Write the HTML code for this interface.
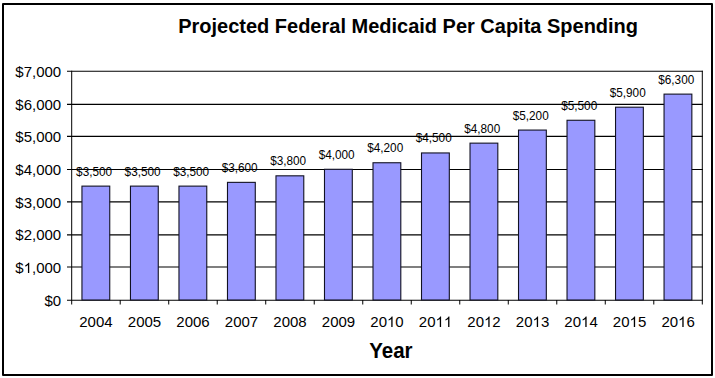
<!DOCTYPE html>
<html><head><meta charset="utf-8"><style>
html,body{margin:0;padding:0;background:#fff;width:715px;height:378px;overflow:hidden}
svg{display:block}
text{font-family:"Liberation Sans",sans-serif;fill:#000;font-kerning:none}
.tt{font-size:20px;font-weight:bold;font-kerning:auto}
</style></head><body>
<svg width="715" height="378" viewBox="0 0 715 378">
<rect x="3" y="4" width="709" height="371" fill="none" stroke="#000" stroke-width="2" stroke-linejoin="round"/>
<line x1="67" y1="300.20" x2="702.80" y2="300.20" stroke="#000" stroke-width="1.15"/>
<line x1="67" y1="267.00" x2="702.80" y2="267.00" stroke="#000" stroke-width="1.15"/>
<line x1="67" y1="234.90" x2="702.80" y2="234.90" stroke="#000" stroke-width="1.15"/>
<line x1="67" y1="201.90" x2="702.80" y2="201.90" stroke="#000" stroke-width="1.15"/>
<line x1="67" y1="169.50" x2="702.80" y2="169.50" stroke="#000" stroke-width="1.15"/>
<line x1="67" y1="136.40" x2="702.80" y2="136.40" stroke="#000" stroke-width="1.15"/>
<line x1="67" y1="104.35" x2="702.80" y2="104.35" stroke="#000" stroke-width="1.15"/>
<line x1="67" y1="71.20" x2="702.80" y2="71.20" stroke="#000" stroke-width="1.15"/>
<line x1="702.30" y1="70.75" x2="702.30" y2="304.50" stroke="#000" stroke-width="1"/>
<line x1="71.70" y1="70.75" x2="71.70" y2="304.50" stroke="#000" stroke-width="1"/>
<line x1="120.21" y1="300.00" x2="120.21" y2="304.50" stroke="#000" stroke-width="1"/>
<line x1="168.72" y1="300.00" x2="168.72" y2="304.50" stroke="#000" stroke-width="1"/>
<line x1="217.22" y1="300.00" x2="217.22" y2="304.50" stroke="#000" stroke-width="1"/>
<line x1="265.73" y1="300.00" x2="265.73" y2="304.50" stroke="#000" stroke-width="1"/>
<line x1="314.24" y1="300.00" x2="314.24" y2="304.50" stroke="#000" stroke-width="1"/>
<line x1="362.75" y1="300.00" x2="362.75" y2="304.50" stroke="#000" stroke-width="1"/>
<line x1="411.25" y1="300.00" x2="411.25" y2="304.50" stroke="#000" stroke-width="1"/>
<line x1="459.76" y1="300.00" x2="459.76" y2="304.50" stroke="#000" stroke-width="1"/>
<line x1="508.27" y1="300.00" x2="508.27" y2="304.50" stroke="#000" stroke-width="1"/>
<line x1="556.78" y1="300.00" x2="556.78" y2="304.50" stroke="#000" stroke-width="1"/>
<line x1="605.28" y1="300.00" x2="605.28" y2="304.50" stroke="#000" stroke-width="1"/>
<line x1="653.79" y1="300.00" x2="653.79" y2="304.50" stroke="#000" stroke-width="1"/>
<rect x="81.95" y="186.12" width="27.8" height="113.88" fill="#9999FF" stroke="#111122" stroke-width="1.1"/>
<rect x="130.46" y="186.12" width="27.8" height="113.88" fill="#9999FF" stroke="#111122" stroke-width="1.1"/>
<rect x="178.97" y="186.12" width="27.8" height="113.88" fill="#9999FF" stroke="#111122" stroke-width="1.1"/>
<rect x="227.48" y="182.36" width="27.8" height="117.64" fill="#9999FF" stroke="#111122" stroke-width="1.1"/>
<rect x="275.98" y="175.82" width="27.8" height="124.18" fill="#9999FF" stroke="#111122" stroke-width="1.1"/>
<rect x="324.49" y="169.29" width="27.8" height="130.71" fill="#9999FF" stroke="#111122" stroke-width="1.1"/>
<rect x="373.00" y="162.75" width="27.8" height="137.25" fill="#9999FF" stroke="#111122" stroke-width="1.1"/>
<rect x="421.51" y="152.95" width="27.8" height="147.05" fill="#9999FF" stroke="#111122" stroke-width="1.1"/>
<rect x="470.02" y="143.14" width="27.8" height="156.86" fill="#9999FF" stroke="#111122" stroke-width="1.1"/>
<rect x="518.52" y="130.07" width="27.8" height="169.93" fill="#9999FF" stroke="#111122" stroke-width="1.1"/>
<rect x="567.03" y="120.27" width="27.8" height="179.73" fill="#9999FF" stroke="#111122" stroke-width="1.1"/>
<rect x="615.54" y="107.20" width="27.8" height="192.80" fill="#9999FF" stroke="#111122" stroke-width="1.1"/>
<rect x="664.05" y="94.12" width="27.8" height="205.88" fill="#9999FF" stroke="#111122" stroke-width="1.1"/>
<g transform="translate(94.15,175.62) scale(1.0,1.04)"><text x="-18.05" y="0" style="font-size:11.8px">$3,500</text></g>
<g transform="translate(142.66,175.62) scale(1.0,1.04)"><text x="-18.05" y="0" style="font-size:11.8px">$3,500</text></g>
<g transform="translate(191.17,175.62) scale(1.0,1.04)"><text x="-18.05" y="0" style="font-size:11.8px">$3,500</text></g>
<g transform="translate(239.68,171.86) scale(1.0,1.04)"><text x="-18.05" y="0" style="font-size:11.8px">$3,600</text></g>
<g transform="translate(288.18,165.32) scale(1.0,1.04)"><text x="-18.05" y="0" style="font-size:11.8px">$3,800</text></g>
<g transform="translate(336.69,158.79) scale(1.0,1.04)"><text x="-18.05" y="0" style="font-size:11.8px">$4,000</text></g>
<g transform="translate(385.20,152.25) scale(1.0,1.04)"><text x="-18.05" y="0" style="font-size:11.8px">$4,200</text></g>
<g transform="translate(433.71,142.45) scale(1.0,1.04)"><text x="-18.05" y="0" style="font-size:11.8px">$4,500</text></g>
<g transform="translate(482.22,132.64) scale(1.0,1.04)"><text x="-18.05" y="0" style="font-size:11.8px">$4,800</text></g>
<g transform="translate(530.72,119.57) scale(1.0,1.04)"><text x="-18.05" y="0" style="font-size:11.8px">$5,200</text></g>
<g transform="translate(579.23,109.77) scale(1.0,1.04)"><text x="-18.05" y="0" style="font-size:11.8px">$5,500</text></g>
<g transform="translate(627.74,96.70) scale(1.0,1.04)"><text x="-18.05" y="0" style="font-size:11.8px">$5,900</text></g>
<g transform="translate(676.25,83.62) scale(1.0,1.04)"><text x="-18.05" y="0" style="font-size:11.8px">$6,300</text></g>
<g transform="translate(61.20,305.80) scale(1.0,1.0)"><text x="-16.68" y="0" style="font-size:15px">$0</text></g>
<g transform="translate(61.20,273.12) scale(1.0,1.0)"><text x="-45.88" y="0" style="font-size:15px">$ ,000</text><path transform="translate(-37.537,0) scale(0.00732,-0.00707)" d="M763 0L583 0L583 1147Q518 1085 412 1023Q306 961 222 930L222 1104Q373 1175 486 1276Q599 1377 646 1472L763 1472Z"/></g>
<g transform="translate(61.20,240.44) scale(1.0,1.0)"><text x="-45.88" y="0" style="font-size:15px">$2,000</text></g>
<g transform="translate(61.20,207.76) scale(1.0,1.0)"><text x="-45.88" y="0" style="font-size:15px">$3,000</text></g>
<g transform="translate(61.20,175.09) scale(1.0,1.0)"><text x="-45.88" y="0" style="font-size:15px">$4,000</text></g>
<g transform="translate(61.20,142.41) scale(1.0,1.0)"><text x="-45.88" y="0" style="font-size:15px">$5,000</text></g>
<g transform="translate(61.20,109.73) scale(1.0,1.0)"><text x="-45.88" y="0" style="font-size:15px">$6,000</text></g>
<g transform="translate(61.20,77.05) scale(1.0,1.0)"><text x="-45.88" y="0" style="font-size:15px">$7,000</text></g>
<g transform="translate(95.95,327.00) scale(1.0,1.0)"><text x="-16.68" y="0" style="font-size:15px">2004</text></g>
<g transform="translate(144.46,327.00) scale(1.0,1.0)"><text x="-16.68" y="0" style="font-size:15px">2005</text></g>
<g transform="translate(192.97,327.00) scale(1.0,1.0)"><text x="-16.68" y="0" style="font-size:15px">2006</text></g>
<g transform="translate(241.48,327.00) scale(1.0,1.0)"><text x="-16.68" y="0" style="font-size:15px">2007</text></g>
<g transform="translate(289.98,327.00) scale(1.0,1.0)"><text x="-16.68" y="0" style="font-size:15px">2008</text></g>
<g transform="translate(338.49,327.00) scale(1.0,1.0)"><text x="-16.68" y="0" style="font-size:15px">2009</text></g>
<g transform="translate(387.00,327.00) scale(1.0,1.0)"><text x="-16.68" y="0" style="font-size:15px">20 0</text><path transform="translate(0.000,0) scale(0.00732,-0.00707)" d="M763 0L583 0L583 1147Q518 1085 412 1023Q306 961 222 930L222 1104Q373 1175 486 1276Q599 1377 646 1472L763 1472Z"/></g>
<g transform="translate(435.51,327.00) scale(1.0,1.0)"><text x="-16.68" y="0" style="font-size:15px">20  </text><path transform="translate(0.000,0) scale(0.00732,-0.00707)" d="M763 0L583 0L583 1147Q518 1085 412 1023Q306 961 222 930L222 1104Q373 1175 486 1276Q599 1377 646 1472L763 1472Z"/><path transform="translate(8.342,0) scale(0.00732,-0.00707)" d="M763 0L583 0L583 1147Q518 1085 412 1023Q306 961 222 930L222 1104Q373 1175 486 1276Q599 1377 646 1472L763 1472Z"/></g>
<g transform="translate(484.02,327.00) scale(1.0,1.0)"><text x="-16.68" y="0" style="font-size:15px">20 2</text><path transform="translate(0.000,0) scale(0.00732,-0.00707)" d="M763 0L583 0L583 1147Q518 1085 412 1023Q306 961 222 930L222 1104Q373 1175 486 1276Q599 1377 646 1472L763 1472Z"/></g>
<g transform="translate(532.52,327.00) scale(1.0,1.0)"><text x="-16.68" y="0" style="font-size:15px">20 3</text><path transform="translate(0.000,0) scale(0.00732,-0.00707)" d="M763 0L583 0L583 1147Q518 1085 412 1023Q306 961 222 930L222 1104Q373 1175 486 1276Q599 1377 646 1472L763 1472Z"/></g>
<g transform="translate(581.03,327.00) scale(1.0,1.0)"><text x="-16.68" y="0" style="font-size:15px">20 4</text><path transform="translate(0.000,0) scale(0.00732,-0.00707)" d="M763 0L583 0L583 1147Q518 1085 412 1023Q306 961 222 930L222 1104Q373 1175 486 1276Q599 1377 646 1472L763 1472Z"/></g>
<g transform="translate(629.54,327.00) scale(1.0,1.0)"><text x="-16.68" y="0" style="font-size:15px">20 5</text><path transform="translate(0.000,0) scale(0.00732,-0.00707)" d="M763 0L583 0L583 1147Q518 1085 412 1023Q306 961 222 930L222 1104Q373 1175 486 1276Q599 1377 646 1472L763 1472Z"/></g>
<g transform="translate(678.05,327.00) scale(1.0,1.0)"><text x="-16.68" y="0" style="font-size:15px">20 6</text><path transform="translate(0.000,0) scale(0.00732,-0.00707)" d="M763 0L583 0L583 1147Q518 1085 412 1023Q306 961 222 930L222 1104Q373 1175 486 1276Q599 1377 646 1472L763 1472Z"/></g>
<text transform="translate(178.2,33) scale(1,1.04)" class="tt">Projected Federal Medicaid Per Capita Spending</text>
<text transform="translate(369.2,358) scale(1,1.04)" class="tt" style="font-size:20.5px">Year</text>
</svg>
</body></html>
